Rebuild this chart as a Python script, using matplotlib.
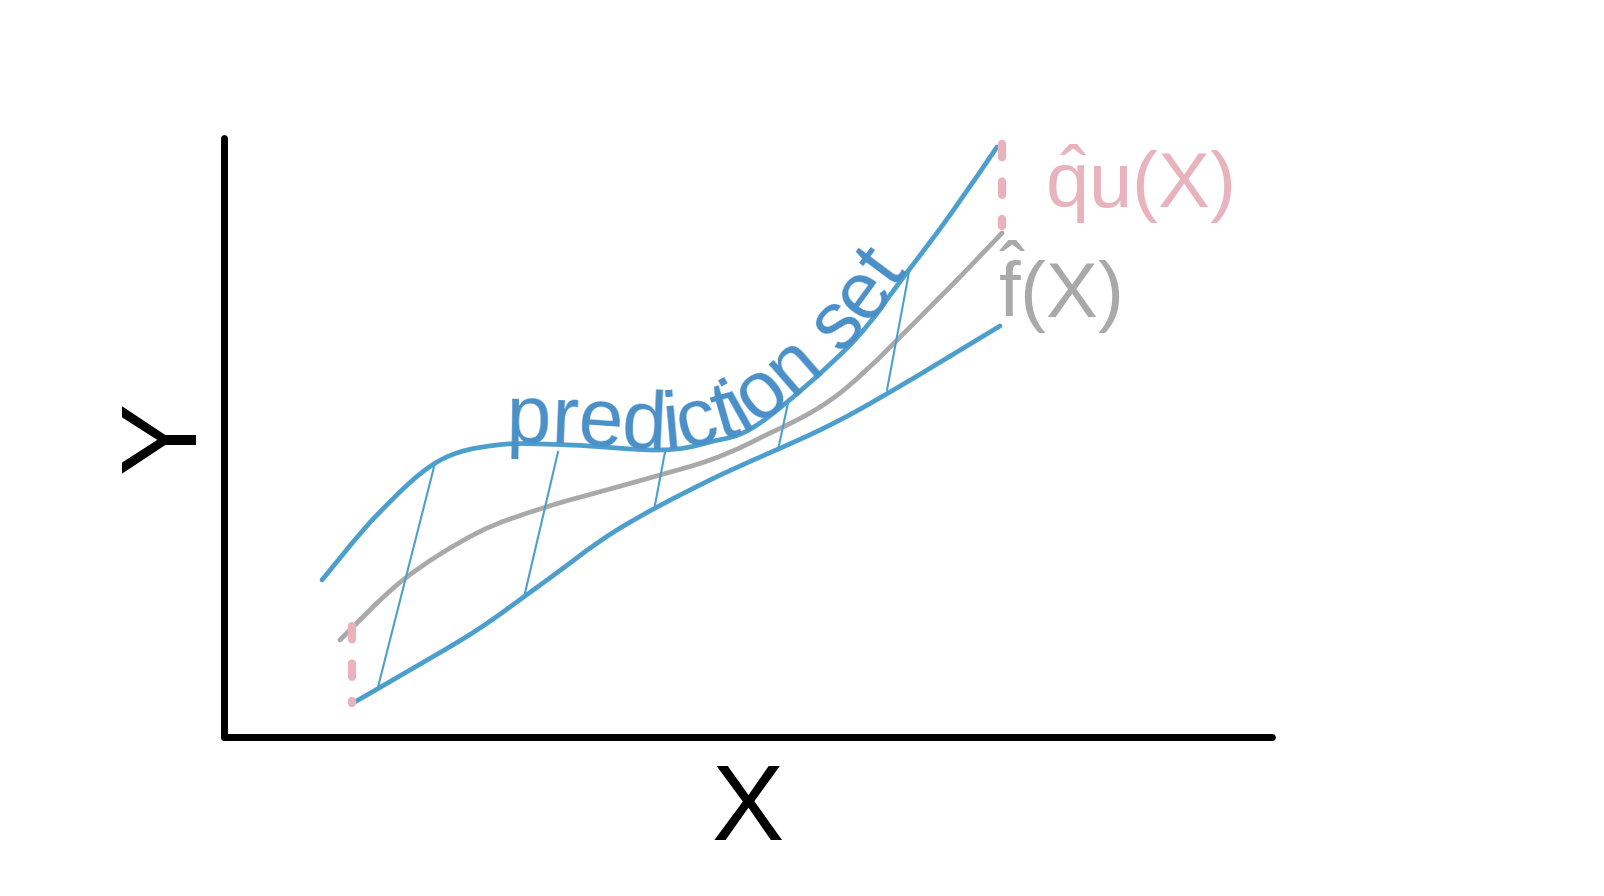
import numpy as np
import matplotlib.pyplot as plt
from matplotlib.path import Path
from matplotlib.patches import PathPatch
from matplotlib.font_manager import findfont, FontProperties
from matplotlib.ft2font import FT2Font

# couleurs
BLUE = '#4c9fcc'
TXT_BLUE = '#4a8fc8'
GREY = '#a9a9a9'
PINK = '#e9b3bd'

# courbes (coordonnées en pixels)
upper_x = [322, 377, 437, 497, 570, 660, 710, 760, 850, 905, 950, 997]
upper_y = [580, 515, 462, 445, 445, 450, 442, 423, 345, 275, 215, 147]
grey_x = [340, 403, 477, 543, 610, 660, 710, 760, 840, 940, 1002]
grey_y = [640, 580, 533, 508, 489, 475, 460, 438, 393, 297, 233]
lower_x = [353, 410, 477, 543, 617, 710, 820, 890, 1000]
lower_y = [703, 670, 630, 583, 530, 480, 430, 392, 326]
# hachures (bas -> haut)
hatch_x0 = [378, 525, 655, 778, 887]
hatch_y0 = [687, 593, 505, 450, 390]
hatch_x1 = [435, 558, 665, 788, 910]
hatch_y1 = [463, 452, 452, 403, 267]
# intervalles en pointillés
gap_x = [352, 1002]
gap_top = [626, 144]
gap_bot = [703, 226]

label_curve = 'prediction set'

plt.rcParams['font.family'] = ['Liberation Sans', 'DejaVu Sans']
plt.rcParams['mathtext.fontset'] = 'custom'
plt.rcParams['mathtext.rm'] = 'Liberation Sans'


def smooth_path(xs, ys):
    # courbe lisse (Catmull-Rom -> Bezier) passant par les points relevés
    p = np.column_stack([xs, ys]).astype(float)
    ext = np.vstack([p[0], p, p[-1]])
    verts = [p[0]]
    codes = [Path.MOVETO]
    for i in range(len(p) - 1):
        c1 = ext[i + 1] + (ext[i + 2] - ext[i]) / 6
        c2 = ext[i + 2] - (ext[i + 3] - ext[i + 1]) / 6
        verts += [c1, c2, p[i + 1]]
        codes += [Path.CURVE4] * 3
    return Path(verts, codes)


fig = plt.figure(figsize=(16.04, 8.96), dpi=100)
ax = fig.add_axes([224 / 1604, 1 - 737 / 896, (1272 - 224) / 1604, (737 - 138) / 896])
ax.set_xlim(224, 1272)
ax.set_ylim(737, 138)
ax.set_xticks([])
ax.set_yticks([])
for s in ['top', 'right']:
    ax.spines[s].set_visible(False)
for s in ['left', 'bottom']:
    ax.spines[s].set_linewidth(5)
    ax.spines[s].set_capstyle('round')

for xs, ys, col in [(grey_x, grey_y, GREY), (upper_x, upper_y, BLUE), (lower_x, lower_y, BLUE)]:
    ax.add_patch(PathPatch(smooth_path(xs, ys), fill=False, edgecolor=col, lw=3.4, capstyle='round'))
for i in range(len(hatch_x0)):
    ax.plot([hatch_x0[i], hatch_x1[i]], [hatch_y0[i], hatch_y1[i]], color=BLUE, lw=1.5)
for i in range(len(gap_x)):
    ax.plot([gap_x[i], gap_x[i]], [gap_top[i], gap_bot[i]], color=PINK, lw=6,
            linestyle=(0, (1.6, 2.9)), dash_capstyle='round')

# texte courbe le long de la borne haute (chaque lettre posée à son origine)
fs = 58
ft = FT2Font(findfont(FontProperties(family='Liberation Sans')))
ft.set_size(fs, fig.dpi)
adv = [ft.load_char(ord(c)).linearHoriAdvance / 65536 for c in label_curve]
track = -0.5

poly = smooth_path(upper_x, upper_y).to_polygons(closed_only=False)[0]
pts = ax.transData.transform(poly)
arc = np.concatenate([[0], np.cumsum(np.hypot(np.diff(pts[:, 0]), np.diff(pts[:, 1])))])


def at(s):
    return np.array([np.interp(s, arc, pts[:, 0]), np.interp(s, arc, pts[:, 1])])


s0 = np.interp(ax.transData.transform((506, 450))[0], pts[:, 0], arc)
inv = ax.transData.inverted()
pos = 0.0
for ch, a in zip(label_curve, adv):
    c = s0 + pos + a / 2
    pos += a + track
    if ch == ' ':
        continue
    d = at(c + 10) - at(c - 10)
    ang = np.degrees(np.arctan2(d[1], d[0]))
    n = np.array([-d[1], d[0]]) / np.hypot(*d)
    u = d / np.hypot(*d)
    # origine de la lettre : point central moins la demi-avance le long de la tangente
    x, y = inv.transform(at(c) - u * a / 2 + n * 1.5)
    ax.text(x, y, ch, fontsize=fs, color=TXT_BLUE, rotation=ang,
            rotation_mode='anchor', ha='left', va='baseline')

ax.text(1045, 208, r'$\hat{\mathrm{q}}\mathrm{u(X)}$', color=PINK, fontsize=56, va='baseline')
ax.text(998, 318, r'$\hat{\mathrm{f}}\mathrm{(X)}$', color=GREY, fontsize=56, va='baseline')

ax.text(748, 840, 'X', fontsize=78, ha='center', va='baseline')
ax.text(195, 437, 'Y', fontsize=78, rotation=90, rotation_mode='anchor', ha='center', va='baseline')

fig.savefig('out.png', dpi=100)
